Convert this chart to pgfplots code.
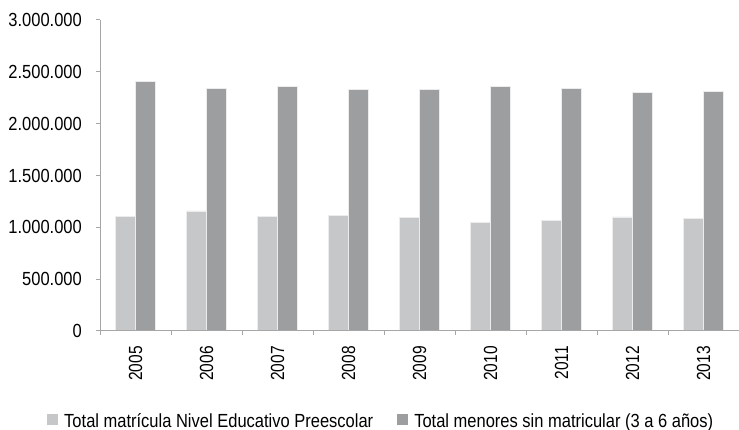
\documentclass[border=0pt]{standalone}
\usepackage{pgfplots}
\pgfplotsset{compat=1.18}
\usepackage{fontspec}
\setmainfont{Liberation Sans}
\definecolor{lightbar}{HTML}{C6C7C9}
\definecolor{darkbar}{HTML}{9D9EA0}
\definecolor{axisgray}{HTML}{A6A6A6}
\newcommand{\chartfont}{\fontsize{16.5}{19.8}\selectfont}
\newcommand{\vs}[1]{\scalebox{1}[1.15]{#1}}
\newcommand{\vy}[1]{\scalebox{0.94}[1.15]{#1}}
\begin{document}
\begin{tikzpicture}
\useasboundingbox (0,0) rectangle (739pt,430pt);
\begin{axis}[
  at={(100pt,99pt)}, anchor=south west,
  scale only axis, width=639pt, height=311pt,
  xmin=-0.5, xmax=8.5, ymin=0, ymax=3000000,
  axis on top,
  axis lines*=left,
  axis line style={axisgray, line width=1pt, -},
  tick style={axisgray, line width=1pt},
  tick align=outside,
  major tick length=4.5pt,
  ybar=0pt, bar width=20pt,
  scaled y ticks=false,
  ytick={0,500000,1000000,1500000,2000000,2500000,3000000},
  yticklabels={\vs{0},\vs{500.000},\vs{1.000.000},\vs{1.500.000},\vs{2.000.000},\vs{2.500.000},\vs{3.000.000}},
  yticklabel style={font=\chartfont, inner sep=0pt, anchor=east, xshift=-13.5pt},
  xtick={-0.5,0.5,1.5,2.5,3.5,4.5,5.5,6.5,7.5,8.5},
  xticklabels={},
  extra x ticks={0,1,2,3,4,5,6,7,8},
  extra x tick labels={\vy{2005},\vy{2006},\vy{2007},\vy{2008},\vy{2009},\vy{2010},\vy{2011},\vy{2012},\vy{2013}},
  extra x tick style={major tick length=0pt},
  xticklabel style={font=\chartfont, rotate=90, anchor=east, inner sep=0pt},
  xticklabel shift=15pt,
  legend columns=2,
  legend style={draw=none, fill=none, at={(-0.0829,-0.29)}, anchor=west,
    font=\chartfont, inner sep=0pt,
    nodes={inner xsep=3pt, inner ysep=0pt},
    /tikz/every odd column/.append style={column sep=3pt},
    /tikz/every even column/.append style={column sep=21pt}},
  legend image code/.code={\fill[#1,draw=none] (0pt,-4pt) rectangle (11pt,7pt);},
]
\addplot[fill=lightbar, draw=white!85!gray, line width=0.5pt] coordinates {
  (0,1109000) (1,1158000) (2,1109000) (3,1116000) (4,1096000)
  (5,1051000) (6,1064000) (7,1100000) (8,1084000)};
\addplot[fill=darkbar, draw=white!85!gray, line width=0.5pt] coordinates {
  (0,2408000) (1,2341000) (2,2363000) (3,2331000) (4,2331000)
  (5,2357000) (6,2338000) (7,2299000) (8,2315000)};
\legend{\vs{Total matrícula Nivel Educativo Preescolar}, \vs{Total menores sin matricular (3 a 6 años)}}
\end{axis}
\end{tikzpicture}
\end{document}
